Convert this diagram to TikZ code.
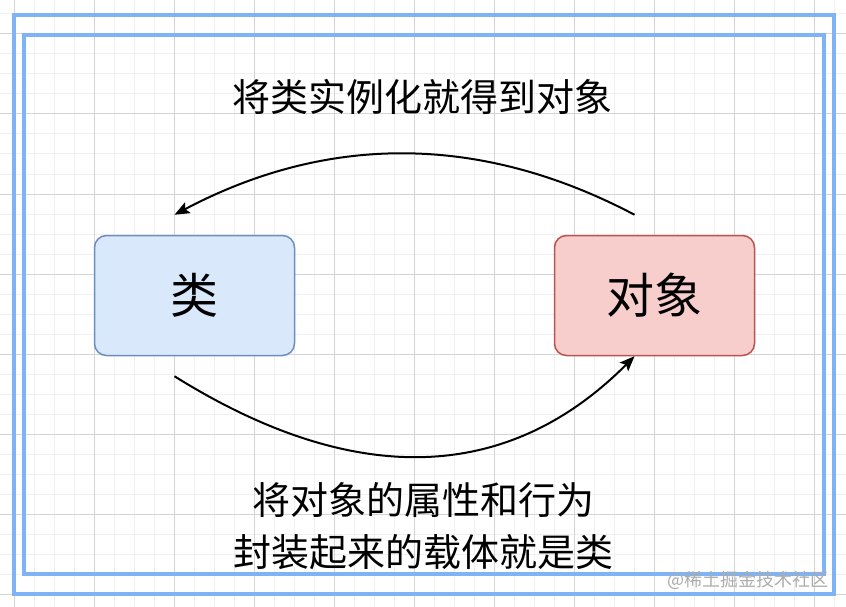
\documentclass[tikz,border=0pt]{standalone}
\usepackage{fontspec}
\newfontfamily\cjkfont{Noto Sans CJK SC}
\usetikzlibrary{arrows.meta,calc}
\definecolor{gridminor}{RGB}{240,240,240}
\definecolor{gridmajor}{RGB}{212,212,212}
\definecolor{framecol}{RGB}{126,179,245}
\definecolor{blueFill}{HTML}{DAE8FC}
\definecolor{blueLine}{HTML}{6C8EBF}
\definecolor{redFill}{HTML}{F8CECC}
\definecolor{redLine}{HTML}{B85450}
\definecolor{markgray}{RGB}{172,172,172}
\begin{document}
\begin{tikzpicture}[x=1pt,y=-1pt,
  minorgrid/.style={draw=gridminor,line width=1pt},
  majorgrid/.style={draw=gridmajor,line width=1pt},
  frameline/.style={draw=framecol,line width=4pt},
  boxstyle/.style={rounded corners=12pt,line width=1.5pt,minimum width=200pt,minimum height=120pt,inner sep=0pt,font=\cjkfont\fontsize{48}{56}\selectfont},
  arcarrow/.style={line width=2pt,-{Stealth[length=15pt,width=12pt,inset=3pt]}},
  captext/.style={inner sep=0pt,align=center,font=\cjkfont\fontsize{38}{52}\selectfont},
  marktext/.style={inner sep=0pt,text=markgray,font=\cjkfont\fontsize{18}{20}\selectfont}
]
\useasboundingbox (0,0) rectangle (846,607);
\fill[white] (0,0) rectangle (846,607);
% grid
\foreach \x in {14,34,...,834} \draw[minorgrid] (\x,0) -- (\x,607);
\foreach \y in {14,34,...,594} \draw[minorgrid] (0,\y) -- (846,\y);
\foreach \x in {14,94,...,814} \draw[majorgrid] (\x,0) -- (\x,607);
\foreach \y in {34,114,...,594} \draw[majorgrid] (0,\y) -- (846,\y);
% frames
\draw[frameline] (14,15) rectangle (834,594);
\draw[frameline] (24,35) rectangle (824,574);
% boxes
\node[boxstyle,fill=blueFill,draw=blueLine] (cls) at (194.5,295.5) {类};
\node[boxstyle,fill=redFill,draw=redLine] (obj) at (654.5,295.5) {对象};
% connectors
\coordinate (topstart) at ($(obj.north)+(-20,-20)$);
\coordinate (topend) at ($(cls.north)+(-20,-20)$);
\coordinate (botstart) at ($(cls.south)+(-20,20)$);
\coordinate (botend) at ($(obj.south)+(-20,0)$);
\draw[arcarrow] (topstart) .. controls (480.7,133.7) and (327.7,133.7) .. (topend);
\draw[arcarrow] (botstart) .. controls (355,489) and (508.3,483) .. (botend);
% texts
\node[captext] (toptext) at (422.5,97) {将类实例化就得到对象};
\node[captext] (bottext) at (423,526) {将对象的属性和行为\\封装起来的载体就是类};
\node[marktext] (mark) at (748,580) {@稀土掘金技术社区};
\end{tikzpicture}
\end{document}
